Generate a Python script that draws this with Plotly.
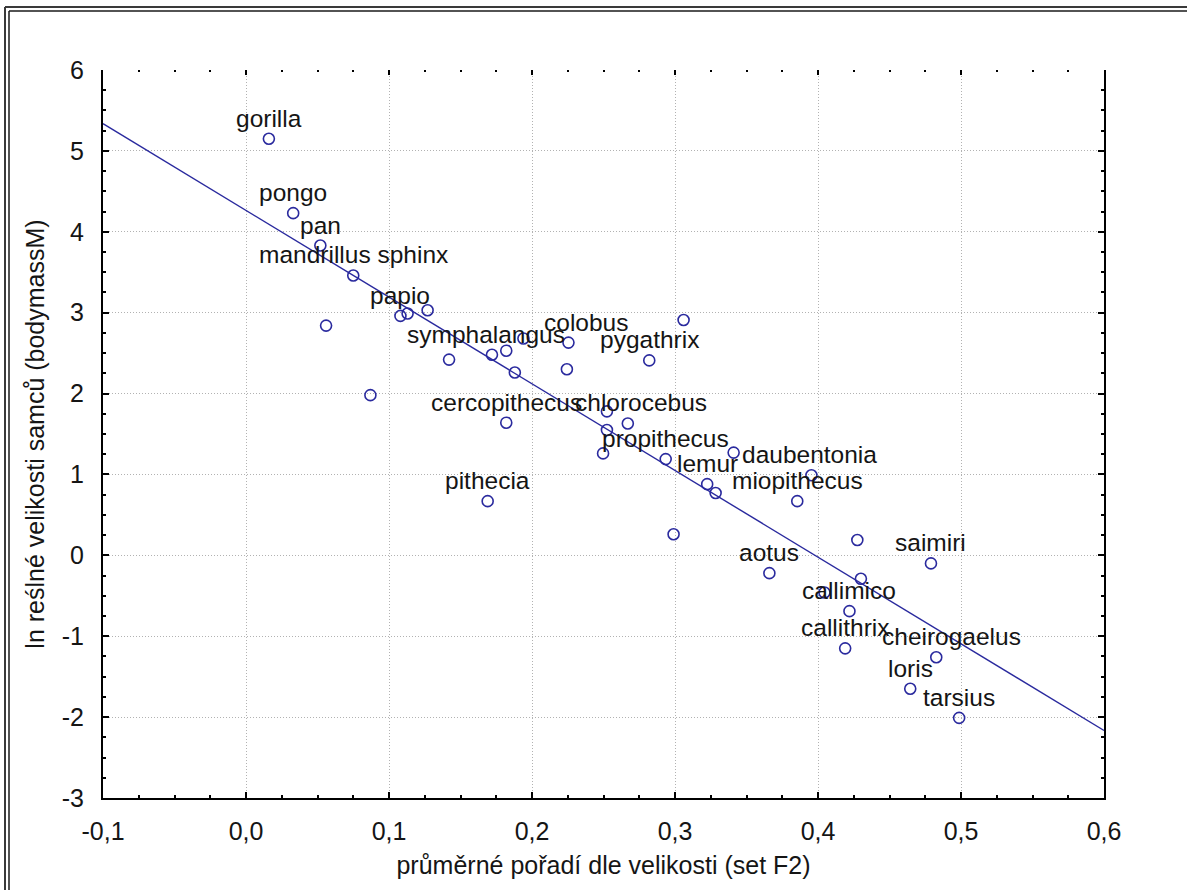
import numpy as np
import plotly.graph_objects as go

# Primate genera: mean size rank (set F2) vs ln of real male body mass
genus = [
    "gorilla", "pongo", "pan", "mandrillus sphinx", "", "papio", "", "",
    "", "", "symphalangus", "", "", "", "colobus", "", "", "pygathrix",
    "cercopithecus", "", "chlorocebus", "", "", "propithecus", "",
    "lemur", "", "", "pithecia", "miopithecus", "daubentonia", "",
    "aotus", "saimiri", "", "", "callimico", "callithrix", "cheirogaelus",
    "loris", "tarsius",
]
rank_f2 = [
    0.016, 0.033, 0.052, 0.075, 0.056, 0.108, 0.113, 0.127,
    0.087, 0.142, 0.172, 0.182, 0.194, 0.188, 0.2255, 0.2244, 0.306, 0.282,
    0.182, 0.2524, 0.267, 0.2524, 0.2497, 0.2935, 0.341,
    0.3225, 0.3284, 0.299, 0.169, 0.3855, 0.3954, 0.4275,
    0.366, 0.479, 0.430, 0.4045, 0.422, 0.419, 0.4827,
    0.4645, 0.4987,
]
ln_mass = [
    5.15, 4.23, 3.83, 3.46, 2.84, 2.96, 2.99, 3.03,
    1.98, 2.42, 2.48, 2.53, 2.68, 2.26, 2.63, 2.30, 2.91, 2.41,
    1.64, 1.78, 1.63, 1.55, 1.26, 1.19, 1.27,
    0.88, 0.77, 0.26, 0.67, 0.67, 0.99, 0.19,
    -0.22, -0.10, -0.29, -0.46, -0.69, -1.15, -1.26,
    -1.65, -2.01,
]

x_ticks = [-0.1, 0.0, 0.1, 0.2, 0.3, 0.4, 0.5, 0.6]
x_tick_text = ["-0,1", "0,0", "0,1", "0,2", "0,3", "0,4", "0,5", "0,6"]
y_ticks = [-3, -2, -1, 0, 1, 2, 3, 4, 5, 6]
y_tick_text = ["-3", "-2", "-1", "0", "1", "2", "3", "4", "5", "6"]

X_RANGE = [-0.1, 0.6]
Y_RANGE = [-3, 6]

# horizontal nudges (px) for labels that sit off-centre over their point
label_xshift = {"symphalangus": -6, "colobus": 18, "chlorocebus": 13,
                "cheirogaelus": 15, "daubentonia": -2}

BLUE = "#2a2a9e"
TEXT = "#151515"
FONT = "Liberation Sans, Arial, sans-serif"

W, H = 1187, 890
ML, MR, MT, MB = 103, 83, 70, 92

# least-squares line over the plotted points
slope, intercept = np.polyfit(rank_f2, ln_mass, 1)
fit_x = np.array(X_RANGE)
fit_y = intercept + slope * fit_x

fig = go.Figure()
fig.add_trace(go.Scatter(
    x=fit_x, y=fit_y, mode="lines",
    line=dict(color=BLUE, width=1.4), hoverinfo="skip", showlegend=False,
))
fig.add_trace(go.Scatter(
    x=rank_f2, y=ln_mass, mode="markers",
    marker=dict(symbol="circle-open", size=11, color=BLUE,
                line=dict(width=1.6, color=BLUE)),
    showlegend=False,
))
# carrier for the top tick row
fig.add_trace(go.Scatter(x=X_RANGE, y=Y_RANGE, xaxis="x2", mode="markers",
                         marker=dict(opacity=0), hoverinfo="skip",
                         showlegend=False))

annotations = []
for name, xv, yv in zip(genus, rank_f2, ln_mass):
    if not name:
        continue
    annotations.append(dict(
        x=xv, y=yv, xref="x", yref="y", text=name, showarrow=False,
        xanchor="center", yanchor="bottom", yshift=5,
        xshift=label_xshift.get(name, 0),
        font=dict(family=FONT, size=24.5, color=TEXT),
    ))


def px_x(p):
    return (p - ML) / (W - ML - MR)


def px_y(p):
    return (H - MB - p) / (H - MT - MB)


# double window frame along the top and left edges
frame = []
for pos, width, color in [(5, 2, "#3a3a3a"), (9, 1.5, "#1a1a1a")]:
    frame.append(dict(type="line", xref="paper", yref="paper",
                      x0=px_x(pos), x1=px_x(W + 20), y0=px_y(pos + 2), y1=px_y(pos + 2),
                      line=dict(color=color, width=width)))
    frame.append(dict(type="line", xref="paper", yref="paper",
                      x0=px_x(pos), x1=px_x(pos), y0=px_y(pos + 2), y1=px_y(H + 20),
                      line=dict(color=color, width=width)))

axis_common = dict(
    showline=True, linecolor="black", linewidth=2,
    ticks="inside", ticklen=6, tickwidth=1.5, tickcolor="black",
    showgrid=True, gridcolor="#b2b2b2", gridwidth=1, griddash="1px,2px",
    zeroline=False,
    tickfont=dict(family=FONT, size=25, color=TEXT),
)

fig.update_layout(
    width=W, height=H,
    margin=dict(l=ML, r=MR, t=MT, b=MB, pad=0),
    paper_bgcolor="white", plot_bgcolor="white",
    annotations=annotations, shapes=frame,
    xaxis=dict(
        **axis_common, range=X_RANGE, tickmode="array",
        tickvals=x_ticks, ticktext=x_tick_text, ticklabelstandoff=10,
        minor=dict(tickmode="linear", tick0=0, dtick=0.025, ticks="inside",
                   ticklen=3, tickwidth=1.5, tickcolor="black", showgrid=False),
        title=dict(text="průměrné pořadí dle velikosti (set F2)",
                   font=dict(family=FONT, size=25, color=TEXT), standoff=12),
    ),
    xaxis2=dict(
        overlaying="x", side="top", anchor="y", range=X_RANGE,
        showline=False, showgrid=False, zeroline=False, showticklabels=False,
        tickmode="array", tickvals=x_ticks, ticks="inside", ticklen=5,
        tickwidth=1.5, tickcolor="black",
        minor=dict(tickmode="linear", tick0=0, dtick=0.025, ticks="inside",
                   ticklen=2, tickwidth=1.5, tickcolor="black", showgrid=False),
    ),
    yaxis=dict(
        **axis_common, range=Y_RANGE, tickmode="array", mirror="ticks",
        tickvals=y_ticks, ticktext=y_tick_text, ticklabelstandoff=12,
        minor=dict(tickmode="linear", tick0=0, dtick=0.25, ticks="inside",
                   ticklen=3, tickwidth=1.5, tickcolor="black", showgrid=False),
        title=dict(text="ln reślné velikosti samců (bodymassM)",
                   font=dict(family=FONT, size=25, color=TEXT), standoff=10),
    ),
)

fig.write_html("out.html")
